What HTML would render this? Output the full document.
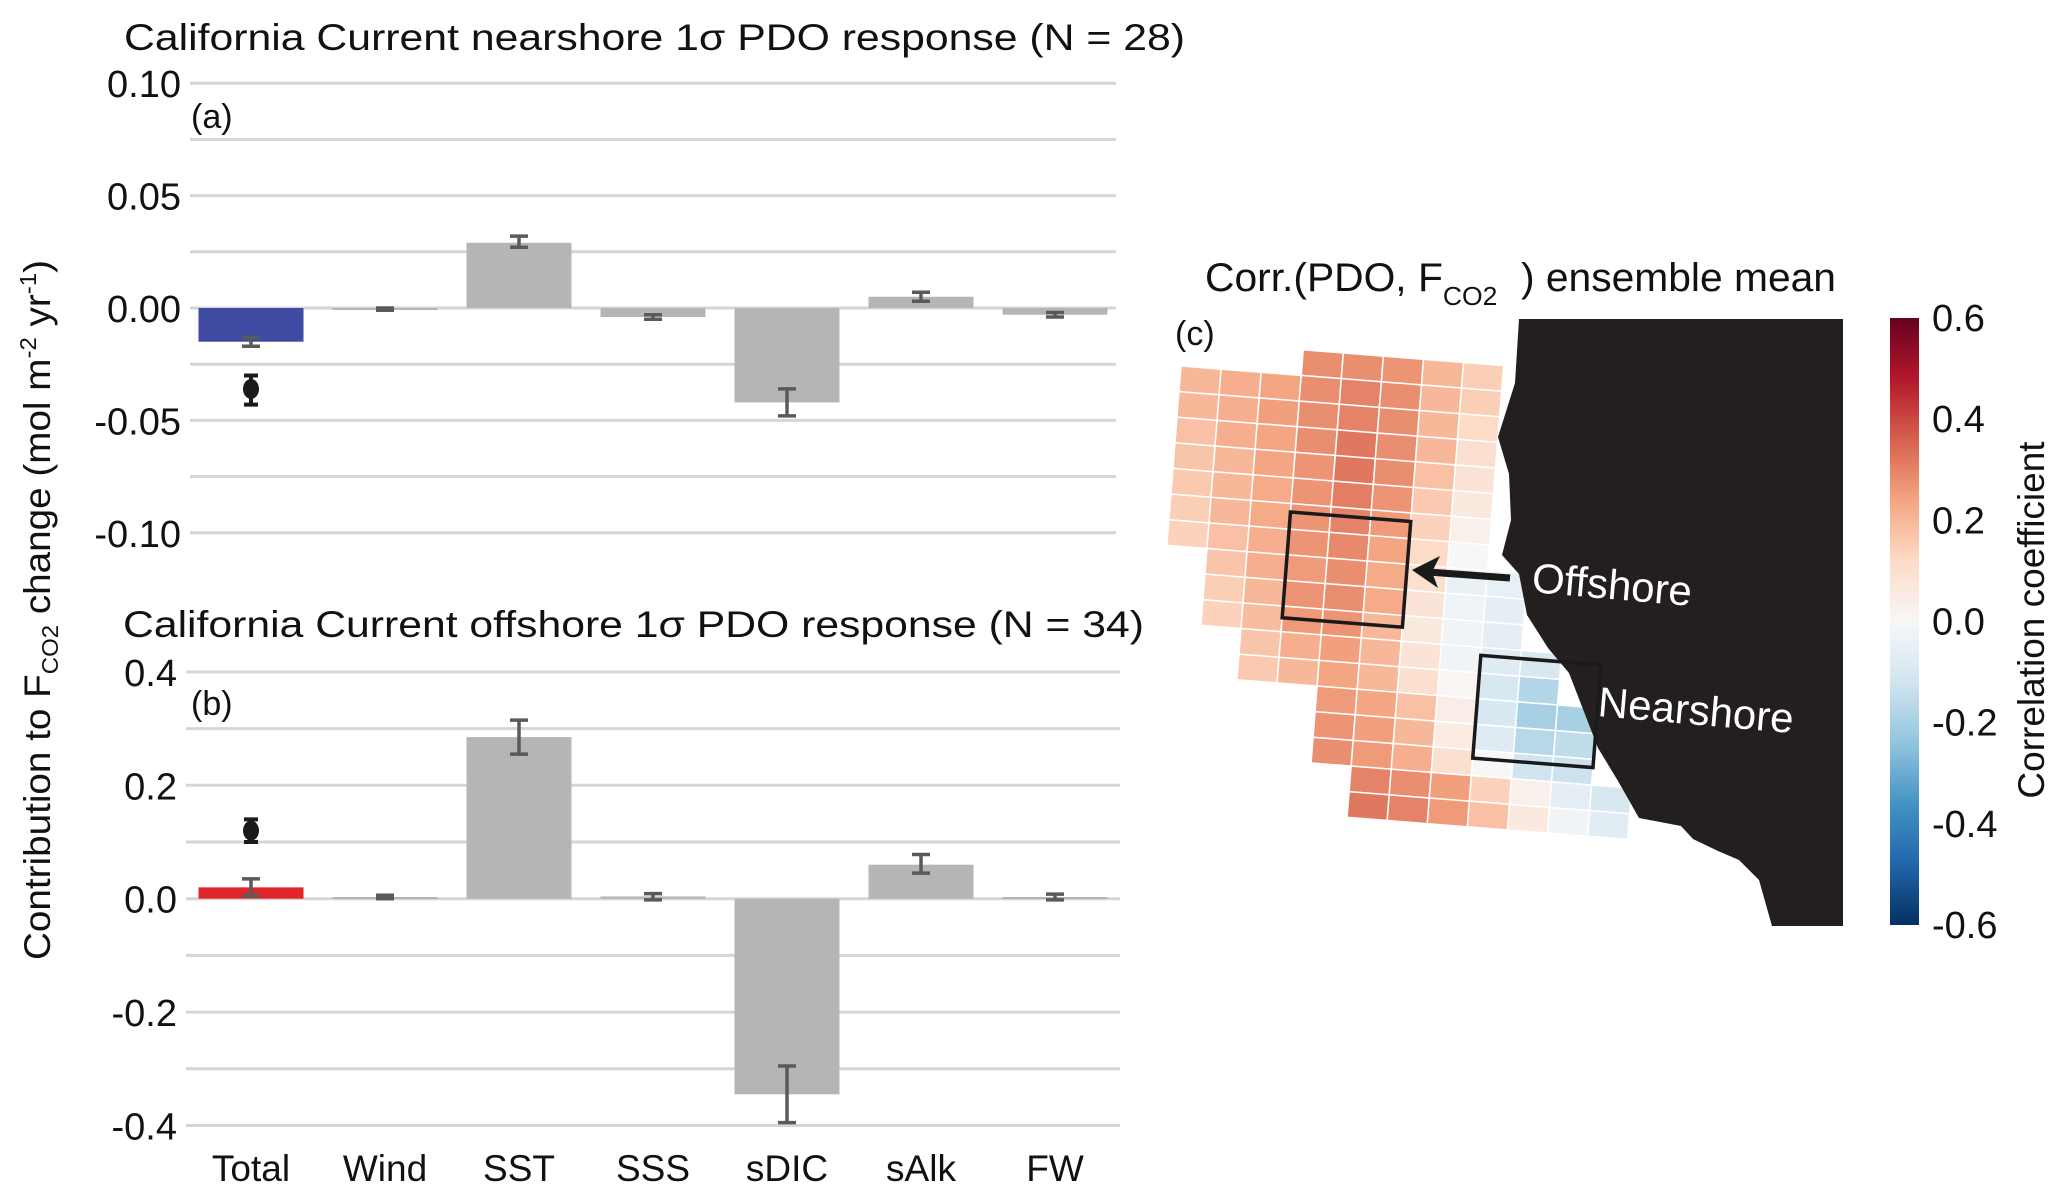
<!DOCTYPE html>
<html><head><meta charset="utf-8"><style>
html,body{margin:0;padding:0;background:#fff}
svg{display:block;font-family:"Liberation Sans",Arial,sans-serif}
</style></head><body>
<svg id="fig" width="2067" height="1202" viewBox="0 0 2067 1202" xmlns="http://www.w3.org/2000/svg">
<defs>
<linearGradient id="cbar" x1="0" y1="1" x2="0" y2="0">
<stop offset="0" stop-color="#053061"/><stop offset="0.1" stop-color="#2166ac"/><stop offset="0.2" stop-color="#4393c3"/><stop offset="0.3" stop-color="#92c5de"/><stop offset="0.4" stop-color="#d1e5f0"/><stop offset="0.5" stop-color="#f7f7f7"/><stop offset="0.6" stop-color="#fddbc7"/><stop offset="0.7" stop-color="#f4a582"/><stop offset="0.8" stop-color="#d6604d"/><stop offset="0.9" stop-color="#b2182b"/><stop offset="1" stop-color="#67001f"/>
</linearGradient>
</defs>
<g id="panelA">
<text x="124" y="50" font-size="37" textLength="1061" lengthAdjust="spacingAndGlyphs" fill="#111">California Current nearshore 1σ PDO response (N = 28)</text>
<text x="191" y="128" font-size="34" fill="#111">(a)</text>
</g>
<g id="panelB">
<text x="123" y="637" font-size="37" textLength="1021" lengthAdjust="spacingAndGlyphs" fill="#111">California Current offshore 1σ PDO response (N = 34)</text>
<text x="191" y="715" font-size="34" fill="#111">(b)</text>
</g>
<text transform="translate(50,610) rotate(-90)" text-anchor="middle" font-size="37" textLength="700" lengthAdjust="spacingAndGlyphs" fill="#111">Contribution to F<tspan font-size="23" dy="8">CO2</tspan><tspan dy="-8"> change (mol m</tspan><tspan font-size="23" dy="-14">-2</tspan><tspan dy="14"> yr</tspan><tspan font-size="23" dy="-14">-1</tspan><tspan dy="14">)</tspan></text>

<g id="panelC">
<text x="1205" y="291" font-size="40" textLength="631" lengthAdjust="spacingAndGlyphs" fill="#111">Corr.(PDO, F<tspan font-size="26" dy="14">CO2</tspan><tspan dy="-14" dx="12"> ) ensemble mean</tspan></text>
<text x="1175" y="345" font-size="34" fill="#111">(c)</text>
<g id="grid" transform="translate(1181,366) rotate(4.5)"></g>
<polygon fill="#231f20" points="1519,319 1843,319 1843,926 1772,926 1759,880 1739,860 1718,851 1693,839 1681,826 1639,818 1618,781 1598,748 1569,673 1548,648 1527,615 1519,574 1502,555 1511,520 1509,474 1498,437 1515,383"/>
<g transform="translate(1181,366) rotate(4.5)">
<rect x="120.6" y="137" width="120.6" height="106" fill="none" stroke="#1a1a1a" stroke-width="3.5"/>
<rect x="321.6" y="265" width="120.6" height="103" fill="none" stroke="#1a1a1a" stroke-width="3.5"/>
</g>
<line x1="1510" y1="578" x2="1428" y2="572" stroke="#1a1a1a" stroke-width="7"/>
<polygon points="1412,570 1440,556 1432,572 1438,588" fill="#1a1a1a"/>
<text transform="translate(1531,592) rotate(5)" font-size="42" fill="#fff">Offshore</text>
<text transform="translate(1597,716) rotate(5)" font-size="42" fill="#fff">Nearshore</text>
<rect x="1890" y="318" width="29" height="607" fill="url(#cbar)"/>
<g id="cbticks"></g>
<text transform="translate(2044,620) rotate(-90)" text-anchor="middle" font-size="37" fill="#111">Correlation coefficient</text>
</g>
</svg>
<script>
const NS='http://www.w3.org/2000/svg';
const categories=['Total','Wind','SST','SSS','sDIC','sAlk','FW'];
const valuesA=[-0.015,-0.0005,0.029,-0.004,-0.042,0.005,-0.003];
const errLoA=[-0.017,-0.001,0.027,-0.005,-0.048,0.003,-0.004];
const errHiA=[-0.013,0.000,0.032,-0.003,-0.036,0.007,-0.002];
const dotA=[-0.036]; const dotLoA=[-0.043]; const dotHiA=[-0.030];
const ticksA=[0.10,0.05,0.00,-0.05,-0.10];
const gridA=[0.10,0.075,0.05,0.025,0,-0.025,-0.05,-0.075,-0.10];
const valuesB=[0.02,0.003,0.285,0.004,-0.345,0.06,0.003];
const errLoB=[0.005,0.0,0.255,-0.002,-0.395,0.045,-0.002];
const errHiB=[0.035,0.006,0.315,0.009,-0.295,0.078,0.008];
const dotB=[0.12]; const dotLoB=[0.10]; const dotHiB=[0.14];
const ticksB=[0.4,0.2,0.0,-0.2,-0.4];
const gridB=[0.4,0.3,0.2,0.1,0,-0.1,-0.2,-0.3,-0.4];
const cbTicks=[0.6,0.4,0.2,0.0,-0.2,-0.4,-0.6];
const mapRowStart=[3,0,0,0,0,0,0,0,1,1,1,2,2,4,4,4,5,5];
const mapRows=[
[0.28,0.28,0.27,0.2,0.15],
[0.2,0.22,0.24,0.28,0.3,0.28,0.2,0.15],
[0.2,0.22,0.25,0.28,0.3,0.28,0.2,0.12],
[0.18,0.22,0.24,0.28,0.32,0.28,0.2,0.1],
[0.17,0.2,0.24,0.27,0.32,0.28,0.18,0.08],
[0.16,0.2,0.23,0.27,0.31,0.27,0.16,0.06],
[0.15,0.2,0.23,0.27,0.3,0.26,0.14,0.03],
[0.14,0.18,0.22,0.27,0.29,0.24,0.12,0.0],
[0.17,0.22,0.26,0.28,0.23,0.1,-0.04,-0.05],
[0.15,0.2,0.27,0.28,0.23,0.08,-0.03,-0.06],
[0.14,0.19,0.26,0.27,0.2,0.06,-0.02,-0.06],
[0.17,0.22,0.25,0.2,0.08,-0.02,-0.08,-0.1],
[0.16,0.2,0.24,0.2,0.1,0.01,-0.1,-0.18],
[0.26,0.24,0.18,0.04,-0.1,-0.2,-0.2],
[0.27,0.25,0.2,0.05,-0.08,-0.17,-0.15],
[0.28,0.26,0.22,0.1,0.0,-0.12,-0.13],
[0.3,0.28,0.25,0.14,0.03,-0.06,-0.1],
[0.32,0.3,0.26,0.18,0.06,-0.02,-0.07]];
const fig=document.getElementById('fig');
function el(tag,attrs,parent){const e=document.createElementNS(NS,tag);for(const k in attrs)e.setAttribute(k,attrs[k]);(parent||fig).appendChild(e);return e;}
function drawPanel(yOf,vals,lo,hi,dot,dlo,dhi,ticks,grid,x0,x1,centers,color,pre,parent){
  grid.forEach(g=>{const l=el('line',{x1:x0,x2:x1,y1:yOf(g),y2:yOf(g),stroke:'#d6d6d6','stroke-width':3},parent);
    
    });
  ticks.forEach(t=>{const s=el('text',{x:x0-9,y:yOf(t)+14,'text-anchor':'end','font-size':38,fill:'#111'},parent);s.textContent=(Math.abs(t)<1e-9?(pre==='a'?'0.00':'0.0'):t.toFixed(pre==='a'?2:1));
    
    });
  const bw=105;
  vals.forEach((v,i)=>{const cx=centers[i];const y0=yOf(0),yv=yOf(v);
    const r=el('rect',{x:cx-bw/2,y:Math.min(y0,yv),width:bw,height:Math.max(Math.abs(yv-y0),2),fill:i===0?color:'#b4b5b7'},parent);
    
    
    const e=el('path',{d:`M${cx},${yOf(lo[i])}V${yOf(hi[i])}M${cx-9},${yOf(lo[i])}h18M${cx-9},${yOf(hi[i])}h18`,stroke:'#5a5a5a','stroke-width':3.5,fill:'none'},parent);
    
    });
  const cx=centers[0];
  const de=el('path',{d:`M${cx},${yOf(dlo[0])}V${yOf(dhi[0])}M${cx-7},${yOf(dlo[0])}h14M${cx-7},${yOf(dhi[0])}h14`,stroke:'#1a1a1a','stroke-width':4,fill:'none'},parent);
  
  
  const d=el('ellipse',{cx:cx,cy:yOf(dot[0]),rx:8,ry:10,fill:'#1a1a1a'},parent);
  
  
}
const centers=[251,385,519,653,787,921,1055];
drawPanel(v=>308-v*2248,valuesA,errLoA,errHiA,dotA,dotLoA,dotHiA,ticksA,gridA,190,1116,centers,'#3f4ba2','a',document.getElementById('panelA'));
drawPanel(v=>898.7-v*567,valuesB,errLoB,errHiB,dotB,dotLoB,dotHiB,ticksB,gridB,186,1120,centers,'#e0262b','b',document.getElementById('panelB'));
categories.forEach((c,i)=>{const t=el('text',{x:centers[i],y:1181,'text-anchor':'middle','font-size':37,fill:'#111'},document.getElementById('panelB'));t.textContent=c;
  
  });
const cmap=[[-0.6,[5,48,97]],[-0.48,[33,102,172]],[-0.36,[67,147,195]],[-0.24,[146,197,222]],[-0.12,[209,229,240]],[0,[247,247,247]],[0.12,[253,219,199]],[0.24,[244,165,130]],[0.36,[214,96,77]],[0.48,[178,24,43]],[0.6,[103,0,31]]];
function col(v){v=Math.max(-0.6,Math.min(0.6,v));for(let i=0;i<cmap.length-1;i++){const a=cmap[i],b=cmap[i+1];if(v<=b[0]){const t=(v-a[0])/(b[0]-a[0]);return 'rgb('+a[1].map((x,k)=>Math.round(x+(b[1][k]-x)*t)).join(',')+')';}}return 'rgb(103,0,31)';}
const gridG=document.getElementById('grid');
const cw=40.2,ch=25.7;
mapRows.forEach((row,ri)=>{const r=ri-1;row.forEach((v,k)=>{const c=mapRowStart[ri]+k;
  const cell=el('rect',{x:c*cw,y:r*ch,width:cw,height:ch,fill:col(v),stroke:'#fff','stroke-width':1.5},gridG);
  
  });});
const cbG=document.getElementById('cbticks');
cbTicks.forEach(t=>{const y=318+(0.6-t)/1.2*607;const s=el('text',{x:1932,y:y+13,'font-size':38,fill:'#111'},cbG);s.textContent=t.toFixed(1);
  
  });
</script>
</body></html>
